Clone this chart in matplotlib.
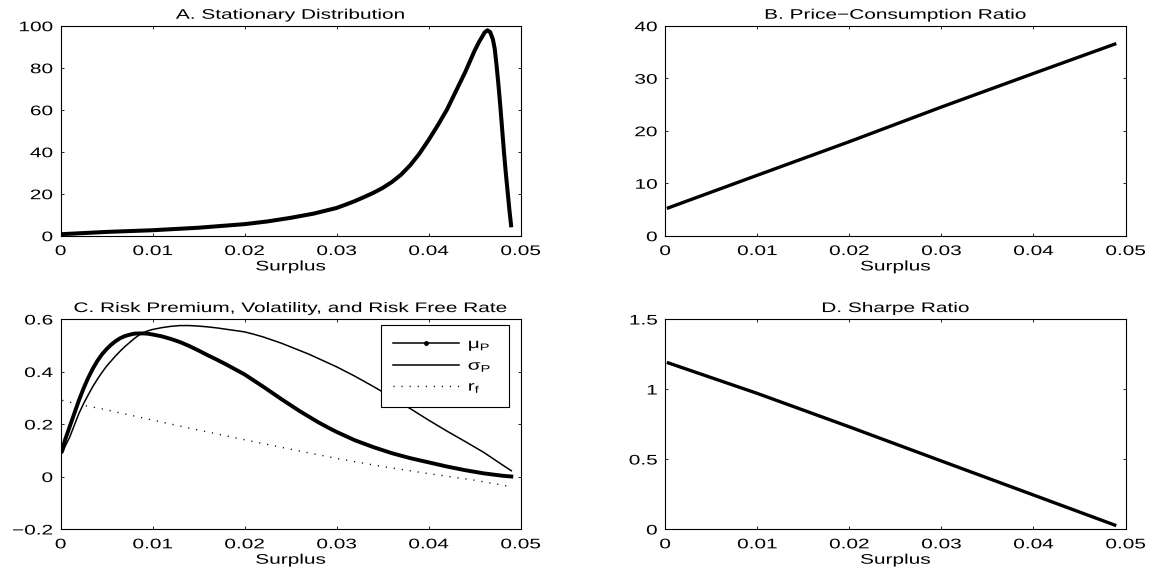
import numpy as np
import matplotlib
matplotlib.use('Agg')
from matplotlib import pyplot as plt
from matplotlib.lines import Line2D
from matplotlib.path import Path
from matplotlib.patheffects import AbstractPathEffect

plt.rcParams['font.family'] = ['Liberation Sans', 'DejaVu Sans']
plt.rcParams['mathtext.fontset'] = 'custom'
plt.rcParams['mathtext.rm'] = 'Liberation Sans'
plt.rcParams['mathtext.it'] = 'Liberation Sans'
FS = 10
SX = 1.5   # the original text is drawn wide

# A. stationary distribution
sA = [0, 0.005, 0.01, 0.015, 0.02, 0.0225, 0.025, 0.0275, 0.03, 0.031, 0.032,
      0.033, 0.034, 0.035, 0.036, 0.037, 0.038, 0.039, 0.040, 0.041, 0.042,
      0.043, 0.044, 0.0445, 0.045, 0.0455, 0.0458, 0.0461, 0.0464, 0.0467,
      0.047, 0.0472, 0.0474, 0.0476, 0.0478, 0.048, 0.0482, 0.0484, 0.0486,
      0.0488, 0.049]
dens = [0.7, 1.8, 2.6, 3.8, 5.5, 6.8, 8.5, 10.5, 13.2, 14.8, 16.5,
        18.4, 20.4, 22.7, 25.5, 29, 33.5, 39, 45.5, 52.5, 60,
        69, 78, 83, 88, 92.3, 94.5, 96.8, 97.8, 97,
        93.5, 89, 81, 72, 62, 51, 40, 30, 21,
        12, 4]

# B. price-consumption ratio
sB = [0.0002, 0.01, 0.02, 0.03, 0.04, 0.049]
pc = [5.2, 11.5, 17.9, 24.5, 30.9, 36.6]

# C. risk premium and volatility
sC = [0.0002, 0.0005, 0.001, 0.0015, 0.002, 0.0025, 0.003, 0.0035, 0.004,
      0.0045, 0.005, 0.0055, 0.006, 0.0065, 0.007, 0.0075, 0.008, 0.0085,
      0.009, 0.0095, 0.010, 0.011, 0.012, 0.013, 0.014, 0.015, 0.016, 0.017,
      0.018, 0.019, 0.020, 0.021, 0.022, 0.023, 0.024, 0.025, 0.026, 0.027,
      0.028, 0.029, 0.030, 0.032, 0.034, 0.036, 0.038, 0.040, 0.042, 0.044,
      0.046, 0.048, 0.049]
muP = [0.10, 0.14, 0.19, 0.24, 0.29, 0.335, 0.375, 0.41, 0.44,
       0.465, 0.485, 0.502, 0.516, 0.527, 0.535, 0.54, 0.544, 0.545,
       0.545, 0.544, 0.541, 0.534, 0.524, 0.512, 0.497, 0.48, 0.462, 0.445,
       0.427, 0.408, 0.389, 0.366, 0.343, 0.319, 0.295, 0.272, 0.249, 0.228,
       0.207, 0.188, 0.17, 0.138, 0.112, 0.089, 0.07, 0.054, 0.038, 0.024,
       0.012, 0.003, 0.0]
sigP = [0.09, 0.115, 0.15, 0.195, 0.24, 0.277, 0.31, 0.342, 0.37,
        0.396, 0.42, 0.44, 0.46, 0.478, 0.495, 0.51, 0.525, 0.538,
        0.548, 0.555, 0.56, 0.567, 0.572, 0.575, 0.575, 0.573, 0.57, 0.566,
        0.561, 0.556, 0.551, 0.542, 0.532, 0.52, 0.508, 0.494, 0.48, 0.466,
        0.45, 0.434, 0.418, 0.382, 0.343, 0.302, 0.259, 0.215, 0.173, 0.133,
        0.092, 0.045, 0.022]

# C. risk free rate
sR = [0.0002, 0.0024, 0.0046, 0.01, 0.015, 0.02, 0.025, 0.03, 0.035, 0.04,
      0.045, 0.049]
rf = [0.29, 0.272, 0.257, 0.215, 0.177, 0.14, 0.104, 0.069, 0.038, 0.011,
      -0.014, -0.039]

# D. sharpe ratio
sD = [0.0002, 0.01, 0.02, 0.03, 0.04, 0.049]
sharpe = [1.19, 0.969, 0.73, 0.486, 0.243, 0.024]


class Stretch(AbstractPathEffect):
    # widen text paths around their anchor
    def __init__(self, sx, ha):
        super().__init__()
        self.sx = sx
        self.ha = ha

    def draw_path(self, renderer, gc, tpath, affine, rgbFace=None):
        v = np.array(tpath.vertices, dtype=float)
        if len(v):
            if self.ha == 'center':
                a = (v[:, 0].min() + v[:, 0].max()) / 2
            elif self.ha == 'right':
                a = v[:, 0].max()
            else:
                a = 0.0
            v[:, 0] = a + (v[:, 0] - a) * self.sx
        renderer.draw_path(gc, Path(v, tpath.codes), affine, rgbFace)


def widen(t):
    t.set_path_effects([Stretch(SX, t.get_ha())])


fig = plt.figure(figsize=(11.56, 5.72), dpi=100)
W, H = 1156.0, 572.0
def box(l, t, r, b):
    return [l / W, 1 - b / H, (r - l) / W, (b - t) / H]

axA = fig.add_axes(box(60.5, 25.7, 520.5, 235.7))
axB = fig.add_axes(box(665, 25.7, 1125.5, 235.7))
axC = fig.add_axes(box(60.5, 319, 520.5, 529))
axD = fig.add_axes(box(665, 319, 1125.5, 529))

axA.plot(sA, dens, 'k', lw=2.9, solid_capstyle='butt')
axA.set_ylim(0, 100)
axA.set_yticks([0, 20, 40, 60, 80, 100])
axA.set_title('A. Stationary Distribution', fontsize=FS, pad=5)

axB.plot(sB, pc, 'k', lw=2.4, solid_capstyle='butt')
axB.set_ylim(0, 40)
axB.set_yticks([0, 10, 20, 30, 40])
axB.set_title('B. Price\u2212Consumption Ratio', fontsize=FS, pad=5)

dots = (0, (0.8, 5))
axC.plot(sC, muP, 'k', lw=2.8)
axC.plot(sC, sigP, 'k', lw=1.1)
axC.plot(sR, rf, 'k', lw=1.0, ls=dots)
axC.set_ylim(-0.2, 0.6)
axC.set_yticks([-0.2, 0, 0.2, 0.4, 0.6])
axC.set_yticklabels(['\u22120.2', '0', '0.2', '0.4', '0.6'])
axC.set_title('C. Risk Premium, Volatility, and Risk Free Rate', fontsize=FS, pad=5)
handles = [Line2D([], [], color='k', lw=1.1, marker='.', markersize=5),
           Line2D([], [], color='k', lw=1.1),
           Line2D([], [], color='k', lw=1.0, ls=dots)]
labels = ['$\\mu_P$    ', '$\\sigma_P$    ', '$r_f$    ']
leg = axC.legend(handles, labels,
                 loc='upper right', bbox_to_anchor=(0.974, 0.97),
                 borderaxespad=0, fancybox=False, edgecolor='k',
                 framealpha=1, handlelength=4.8, handletextpad=0.6,
                 borderpad=0.85, labelspacing=0.4, fontsize=FS)
leg.get_frame().set_linewidth(0.8)
for t in leg.get_texts():
    widen(t)

axD.plot(sD, sharpe, 'k', lw=2.4, solid_capstyle='butt')
axD.set_ylim(0, 1.5)
axD.set_yticks([0, 0.5, 1, 1.5])
axD.set_yticklabels(['0', '0.5', '1', '1.5'])
axD.set_title('D. Sharpe Ratio', fontsize=FS, pad=5)

for ax in [axA, axB, axC, axD]:
    ax.set_xlim(0, 0.05)
    ax.set_xticks([0, 0.01, 0.02, 0.03, 0.04, 0.05])
    ax.set_xticklabels(['0', '0.01', '0.02', '0.03', '0.04', '0.05'])
    ax.set_xlabel('Surplus', labelpad=1, fontsize=FS)
    ax.tick_params(direction='in', top=True, right=True, length=2.5, width=0.6,
                   labelsize=FS)
    ax.tick_params(axis='x', pad=6)
    ax.tick_params(axis='y', pad=5.5)
    for sp in ax.spines.values():
        sp.set_linewidth(0.8)
    for t in ax.get_xticklabels() + ax.get_yticklabels():
        widen(t)
    widen(ax.title)
    widen(ax.xaxis.label)

fig.savefig('out.png', dpi=100)
